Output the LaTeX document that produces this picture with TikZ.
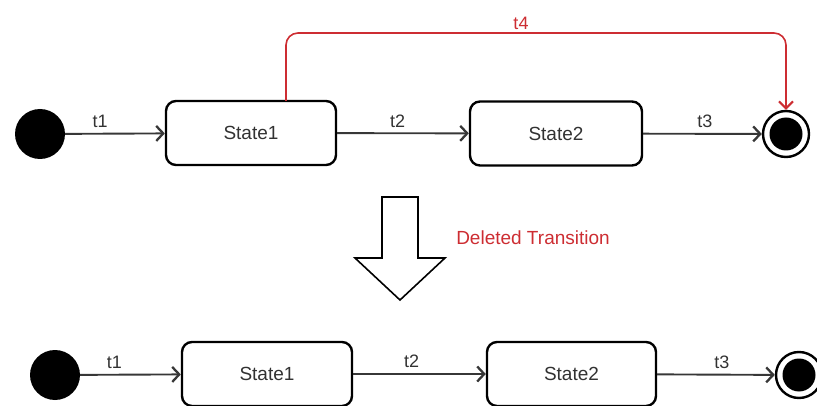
\documentclass[tikz,border=0pt]{standalone}
\usepackage{fontspec}
\setmainfont{Liberation Sans}
\usetikzlibrary{arrows.meta}
\definecolor{linegray}{RGB}{55,55,55}
\definecolor{textgray}{RGB}{50,50,50}
\definecolor{delred}{RGB}{205,45,50}
\begin{document}
\begin{tikzpicture}[x=1pt,y=-1pt,
  state/.style={draw=black, line width=2.4pt, rounded corners=10pt, fill=white,
    minimum width=#1, minimum height=64pt, inner sep=0pt,
    font=\fontsize{19}{22}\selectfont, text=textgray},
  state/.default=170pt,
  initial/.style={circle, fill=black, minimum size=50pt, inner sep=0pt},
  finalring/.style={circle, draw=black, line width=2.4pt, fill=white, minimum size=46pt, inner sep=0pt},
  finaldot/.style={circle, fill=black, minimum size=33pt, inner sep=0pt},
  trans/.style={draw=linegray, line width=1.9pt,
    -{Straight Barb[length=7pt,width=15pt,line width=2.3pt]}},
  tlabel/.style={font=\fontsize{18}{20}\selectfont, text=textgray, inner sep=1pt, above=4pt},
]
\useasboundingbox (0,0) rectangle (817,406);

% ---- upper machine: with the t4 transition ----
\node[initial] (i1) at (40,134) {};
\node[state=170pt] (s1) at (251,133) {State1};
\node[state=172pt] (s2) at (556,133.5) {State2};
\node[finalring] (f1) at (786,134) {};
\node[finaldot] (f1d) at (f1) {};

\draw[trans] (i1) -- node[tlabel, pos=0.35] {t1} (s1);
\draw[trans] (s1) -- node[tlabel, pos=0.46] {t2} (s2);
\draw[trans] (s2) -- node[tlabel, pos=0.52] {t3} (f1);
\coordinate (t4a) at (286,101);
\draw[draw=delred, line width=1.6pt, rounded corners=12pt,
      -{Straight Barb[length=7pt,width=14pt,line width=2pt]}]
  (t4a) -- (286,33) -- node[pos=0.47, above=2pt, inner sep=1pt, text=delred,
      font=\fontsize{18}{20}\selectfont] {t4} (786,33) -- (f1.north);

% ---- block arrow and caption ----
\draw[line width=1.6pt, fill=white, line join=miter]
  (382,197) -- (418,197) -- (418,258) -- (445,258) -- (400,300)
  -- (355,258) -- (382,258) -- cycle;
\node[text=delred, font=\fontsize{19}{22}\selectfont] (cap) at (533,238) {Deleted Transition};

% ---- lower machine: t4 removed ----
\node[initial] (i2) at (55,375) {};
\node[state=170pt] (s3) at (267,374) {State1};
\node[state=169pt] (s4) at (571.5,374) {State2};
\node[finalring] (f2) at (799,375) {};
\node[finaldot] (f2d) at (f2) {};

\draw[trans] (i2) -- node[tlabel, pos=0.34] {t1} (s3);
\draw[trans] (s3) -- node[tlabel, pos=0.44] {t2} (s4);
\draw[trans] (s4) -- node[tlabel, pos=0.55] {t3} (f2);
\end{tikzpicture}
\end{document}
